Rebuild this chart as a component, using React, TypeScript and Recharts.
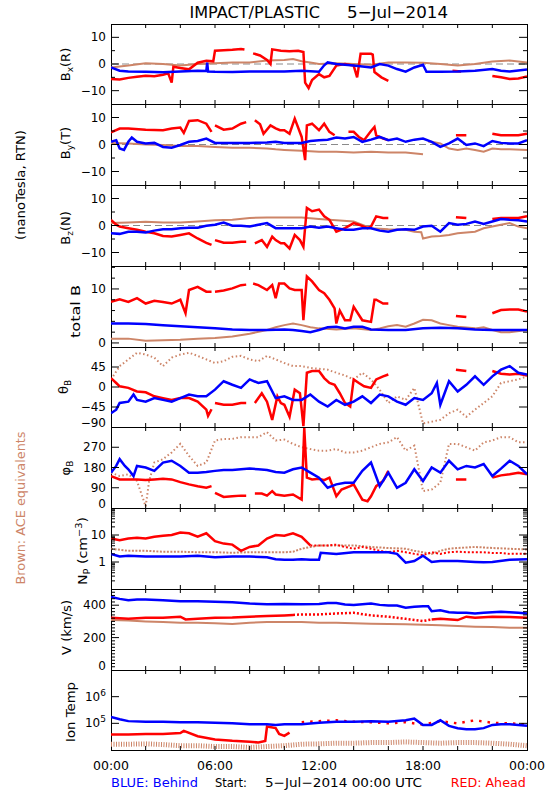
import React from 'react';
import { LineChart, Line, XAxis, YAxis, ReferenceArea, ReferenceLine } from 'recharts';

type Pt = [number, number | null];

const BLUE = '#0000ff';
const RED = '#ff0000';
const BROWN = '#cd8568';
const FONT = '"DejaVu Sans", sans-serif';

// x axis: hours of 5-Jul-2014
const HOUR_TICKS = [0, 2, 4, 6, 8, 10, 12, 14, 16, 18, 20, 22, 24];
const HOUR_LABELS: Record<number, string> = { 0: '00:00', 6: '06:00', 12: '12:00', 18: '18:00', 24: '00:00' };

// ---- Bx (R)
const bxAhead: Pt[] = [[0,-5.6],[0.5,-5.8],[1,-5.2],[1.5,-4.8],[2,-4.4],[2.5,-4.6],[3,-4],[3.3,-3.5],[3.5,-7],[3.6,-1],[4,-1.5],[4.5,-2],[5,0.5],[5.5,1.2],[5.9,1],[6,5],[6.5,5.2],[7,5.3],[7.5,5.6],[7.7,5.4],[7.8,null],[8.2,4],[8.6,3.2],[9,1.5],[9.2,0],[9.3,5.5],[9.8,5],[10.3,4.8],[10.8,5],[11.1,4.5],[11.2,-7],[11.4,-9],[11.6,-6],[12,-3.8],[12.3,-5],[12.6,-4.5],[13,-0.6],[13.5,0],[14,-0.6],[14.2,-5],[14.4,3.8],[15,3.8],[15.1,3.5],[15.2,-3],[15.6,-5],[16,-6.3],[16.1,null],[19.7,-2.5],[20.2,-2.8],[20.3,null],[22,-4.5],[22.5,-5],[23,-5.6],[23.5,-5.4],[24,-4.7]];
const bxBehind: Pt[] = [[0,-1.3],[0.5,-2.5],[1,-2.8],[2,-2.9],[3,-3.1],[4,-2.8],[5,-2.5],[5.5,-2.6],[5.55,0.5],[5.6,-2.8],[6,-2.9],[7,-3],[8,-2.8],[9,-2.8],[10,-2.8],[11,-2.5],[12,-2.9],[12.3,-0.5],[12.5,0.6],[13,0],[14,-0.6],[15,-1.3],[15.5,0],[16,-0.6],[16.5,-1.9],[17,-2.9],[17.5,-1.3],[18,-0.3],[18.2,-2.9],[19,-2.9],[20,-2.8],[21,-2.5],[22,-1.9],[22.5,-2.5],[23,-2.8],[24,-2.1]];
const bxAce: Pt[] = [[0,-1.3],[1,-0.6],[2,0.3],[3,0],[4,-0.6],[5,0],[6,0.3],[7,0.6],[8,0.6],[9,1.3],[10,1.5],[10.5,1.9],[11,1],[11.5,0.6],[12,0],[13,0.3],[14,0],[15,-0.3],[16,0.6],[17,0.6],[18,0.5],[19,0],[20,-0.6],[21,0],[22,0.9],[23,1.3],[24,0.6]];

// ---- By (T)
const byAhead: Pt[] = [[0,4.5],[0.5,5.9],[1,5.9],[2,5.5],[3,5.3],[3.5,5.9],[4,6.3],[4.2,4.3],[4.5,8.7],[5,9],[5.5,7.7],[5.8,4.7],[5.9,null],[6,7.1],[6.5,5.5],[7,5.9],[7.5,7.7],[7.8,8.3],[7.9,null],[8.3,9],[8.6,7.5],[8.8,4],[9.2,7.1],[9.5,6],[9.75,5.3],[10,5.3],[10.3,4],[10.6,9.6],[11,2.8],[11.2,-5.8],[11.3,7.1],[11.6,7.7],[12,5.3],[12.3,7.7],[12.6,4.7],[12.9,3.4],[13.1,null],[13.7,4.7],[14,4.7],[14.3,2.8],[14.6,1.6],[15,5],[15.2,6.5],[15.3,3.4],[15.7,2.2],[16,1.6],[16.1,null],[19.9,3.4],[20.5,3.4],[20.6,null],[22,4],[22.5,3.4],[23,3.4],[23.5,3.4],[24,4]];
const byBehind: Pt[] = [[0,1],[0.3,1.6],[0.5,-1.5],[0.75,-2],[1,1],[1.2,2.6],[1.5,1],[2,0.4],[2.5,0.6],[3,-0.9],[3.5,-1.2],[4,-0.2],[4.5,1],[5,1.3],[5.5,2.2],[6,0.6],[7,0.6],[8,0.6],[9,0.7],[9.5,1],[10,0.6],[11,0.6],[11.5,1.3],[12,1.6],[12.5,1.8],[13,2.6],[13.5,2.2],[14,2.8],[14.5,1],[15,1.8],[15.5,2.8],[16,1.6],[16.5,2.2],[17,1],[17.5,1.8],[18,2.2],[18.5,1],[19,-0.9],[19.5,0.4],[20,2.2],[20.5,-0.2],[21,0.4],[21.5,-0.6],[22,1.3],[22.5,0.6],[23,0.4],[23.5,0.4],[24,1.6]];
const byAce: Pt[] = [[0,0.6],[1,0.4],[2,0],[3,-0.2],[4,-0.6],[5,-0.6],[6,-0.9],[7,-1.2],[8,-1.2],[9,-1.5],[9.5,-1.8],[10,-2],[11,-2.3],[12,-2.7],[13,-2.7],[14,-3],[15,-2.7],[16,-3],[17,-3],[18,-3.6],[18.1,null],[18.3,1],[18.5,1],[19,0.4],[19.5,-1.5],[20,-2],[20.5,-1.5],[21,-2],[21.5,-2.7],[22,-1.5],[22.5,-1.8],[23,-1.8],[24,-2]];

// ---- Bz (N)
const bzAhead: Pt[] = [[0,2.1],[0.3,0.3],[0.5,-0.4],[1,-1],[1.5,-1.6],[2,-2.3],[2.5,-2.9],[3,-3.9],[3.5,-4.1],[4,-3.5],[4.5,-2.9],[5,-4.8],[5.5,-6.4],[5.8,-7.2],[5.9,null],[6,-5.4],[6.5,-6.4],[7,-6.4],[7.5,-6],[7.8,-6],[7.9,null],[8.3,-6.6],[8.7,-5.4],[9,-7.9],[9.3,-4.1],[9.5,-5.4],[9.8,-6.6],[10,-6.6],[10.3,-8.5],[10.6,-3.5],[10.9,-5.4],[11.1,-7.9],[11.3,6.5],[11.6,5.3],[12,5.9],[12.3,3.4],[12.6,2.1],[13,-2.3],[13.5,-1],[14,0.9],[14.3,0.3],[14.8,-1],[15,-0.4],[15.3,3.4],[15.7,2.8],[16,2.8],[16.1,null],[19.9,3.1],[20.5,2.8],[20.6,null],[22,2.4],[22.5,2.8],[23,2.8],[23.5,2.8],[24,3.4]];
const bzBehind: Pt[] = [[0,-2.9],[0.5,-3.1],[1,-2.3],[1.5,-2.3],[2,-2.6],[2.5,-1.9],[3,-1.4],[3.5,-1.4],[4,-1],[4.5,-0.8],[5,-0.8],[5.5,-0.1],[6,0.3],[6.5,1.1],[7,-0.1],[7.5,-0.1],[8,-0.4],[8.5,0.3],[9,0.9],[9.5,-1],[10,-1],[10.5,-1],[11,-1],[11.5,-0.4],[12,-0.8],[12.5,-0.4],[13,-1],[13.5,-1.6],[14,-1.6],[14.5,-1],[15,-1],[15.5,-1.9],[16,-2.3],[16.5,-1.6],[17,-1.4],[17.5,-1.6],[18,-0.4],[18.5,-0.1],[19,-2.3],[19.5,0.9],[20,0.3],[20.5,0.6],[21,1.5],[21.5,0.6],[22,1.5],[22.5,2.4],[23,2.1],[23.5,1.9],[24,1.5]];
const bzAce: Pt[] = [[0,0.9],[1,1.1],[2,1.4],[3,1.1],[4,1.1],[5,1.5],[6,1.9],[7,2.1],[8,2.8],[9,3],[10,3],[11,3],[12,2.4],[13,1.9],[14,1.5],[15,-1],[16,-1.4],[17,-1.6],[17.5,-2.3],[17.9,-2.5],[18,-4.8],[18.5,-4.1],[19,-3.9],[19.5,-3.5],[20,-2.9],[20.5,-2.6],[21,-2.3],[21.5,-1],[22,-0.4],[22.5,0.3],[23,0.9],[23.5,-0.4],[24,-1]];

// ---- total B
const btAhead: Pt[] = [[0,7.6],[0.5,8.1],[1,7.6],[1.5,8.3],[2,7.3],[2.5,7.8],[3,7.6],[3.5,7.3],[4,8],[4.3,5.5],[4.5,9.8],[5,10.4],[5.5,9.5],[5.8,9.5],[5.9,null],[6,9.5],[6.5,9.7],[7,10.1],[7.5,10.7],[7.8,10.8],[7.9,null],[8.2,11],[8.5,10.7],[9,9.8],[9.3,10.7],[9.5,8.3],[9.7,11],[10,11],[10.3,10.1],[10.6,9.8],[11,9.8],[11.1,4.2],[11.3,12.3],[11.6,11.4],[12,9.8],[12.3,9.2],[12.6,8],[12.9,6.4],[13,3.6],[13.2,6],[13.5,4.2],[13.8,4.2],[14,6.7],[14.5,4.2],[15,3.9],[15.2,8],[15.3,8],[15.7,7.3],[16,7.3],[16.1,null],[19.9,5],[20.5,4.8],[20.6,null],[22,5.5],[22.5,6.1],[23,6.2],[23.5,6.2],[24,5.8]];
const btBehind: Pt[] = [[0,3.6],[1,3.6],[2,3.5],[3,3.3],[4,3.1],[5,2.9],[6,2.7],[7,2.5],[8,2.4],[9,2.4],[10,2.5],[10.5,2.4],[11,2.2],[11.5,2],[12,2.4],[12.5,2.9],[13,3],[13.5,2.7],[14,3],[14.5,3],[15,2.5],[16,2.4],[17,2.4],[18,2.7],[19,2.8],[20,2.7],[21,2.5],[22,2.4],[23,2.4],[24,2.4]];
const btAce: Pt[] = [[0,0.8],[1,0.8],[2,0.4],[3,0.5],[4,0.6],[5,0.8],[6,0.9],[7,1.2],[8,1.7],[9,2.4],[9.5,2.9],[10,3.3],[10.5,3.6],[11,3.3],[11.5,2.9],[12,2.7],[13,2.5],[14,2.7],[15,2.4],[15.5,2.7],[16,3.1],[16.5,3.3],[17,3],[17.5,3.6],[18,4.3],[18.5,4.2],[19,3.6],[19.5,3.3],[20,3],[21,2.7],[21.5,2.9],[22,2.4],[22.5,2],[23,2],[24,2.4]];

// ---- theta B
const thAhead: Pt[] = [[0,20],[0.3,9],[0.5,1.5],[1,-2],[1.5,-10],[2,-12],[2.5,-21],[3,-25],[3.5,-29],[4,-25],[4.5,-25],[5,-33],[5.5,-51],[5.6,-65],[5.8,-50],[5.9,null],[6,-36],[6.5,-40],[7,-40],[7.5,-36],[7.8,-36],[7.9,null],[8.3,-36],[8.7,-14],[9,-33],[9.3,-74],[9.6,-21],[9.8,-36],[10,-40],[10.3,-67],[10.6,-6],[10.9,-14],[11.1,-88],[11.3,32],[11.6,36],[12,36],[12.3,20],[12.6,9],[12.9,5],[13.2,-14],[13.5,-36],[13.8,-44],[14,17],[14.3,9],[14.6,1.5],[15,-2],[15.3,17],[15.7,24],[16,28],[16.1,null],[19.9,39],[20.5,36],[20.6,null],[22,36],[22.5,30],[23,28],[23.5,30],[24,26]];
const thBehind: Pt[] = [[0,-59],[0.3,-51],[0.5,-36],[1,-33],[1.3,-17],[1.5,-29],[2,-33],[2.5,-25],[3,-29],[3.5,-33],[4,-25],[4.5,-17],[5,-21],[5.5,-21],[6,-6],[6.5,13],[7,5],[7.5,-2],[8,17],[8.5,9],[9,13],[9.5,-25],[10,-21],[10.5,-29],[11,-29],[11.5,-17],[12,-33],[12.5,-44],[13,-29],[13.5,-40],[14,-33],[14.5,-21],[15,-36],[15.5,-17],[16,-21],[16.5,-33],[17,-40],[17.5,-25],[18,-29],[18.5,-14],[18.8,9],[19,-40],[19.5,13],[20,-10],[20.5,5],[21,24],[21.5,5],[22,24],[22.5,39],[23,47],[23.5,32],[24,28]];
const thAce: Pt[] = [[0,17],[0.5,47],[1,62],[1.5,77],[2,73],[2.5,66],[3,47],[3.5,66],[4,73],[4.5,77],[5,70],[5.5,62],[6,54],[6.5,58],[7,68],[7.5,70],[8,62],[8.5,58],[9,70],[9.5,62],[10,54],[10.5,47],[11,47],[11.5,43],[12,41],[12.5,39],[13,32],[13.5,26],[14,17],[14.5,32],[15,17],[15.5,-6],[16,-36],[16.5,-21],[17,-29],[17.5,-2],[18,-82],[18.5,-78],[19,-74],[19.5,-59],[20,-51],[20.5,-67],[21,-51],[21.5,-36],[22,-21],[22.5,9],[23,13],[23.5,17],[24,24]];

// ---- phi B
const phAhead: Pt[] = [[0,142],[0.5,127],[1,127],[1.5,127],[2,124],[2.5,127],[3,130],[3.5,127],[4,115],[4.5,105],[5,97],[5.5,90],[5.8,97],[5.9,null],[6,67],[6.5,49],[7,52],[7.5,55],[7.8,55],[7.9,null],[8.3,64],[8.7,64],[9,55],[9.3,75],[9.5,60],[10,55],[10.5,60],[11,37],[11.15,355],[11.3,135],[11.6,127],[12,130],[12.3,124],[12.6,135],[13,52],[13.3,82],[13.8,97],[14,105],[14.5,37],[14.8,30],[15,52],[15.3,97],[15.7,120],[16,165],[16.1,null],[19.9,127],[20.5,127],[20.6,null],[22,135],[22.5,145],[23,150],[23.5,157],[24,150]];
const phBehind: Pt[] = [[0,157],[0.3,187],[0.5,217],[0.8,187],[1,172],[1.3,142],[1.5,187],[2,180],[2.5,165],[3,202],[3.5,210],[4,187],[4.5,157],[5,157],[5.5,160],[6,165],[6.5,169],[7,169],[7.5,172],[8,175],[8.5,172],[9,169],[9.5,160],[10,157],[10.5,172],[11,180],[11.5,157],[12,135],[12.5,90],[13,105],[13.5,112],[14,112],[14.5,165],[15,202],[15.5,97],[16,157],[16.5,90],[17,112],[17.5,172],[18,120],[18.5,180],[19,157],[19.5,210],[20,172],[20.5,187],[21,180],[21.5,195],[22,142],[22.5,175],[23,210],[23.5,187],[24,150]];
const phAce: Pt[] = [[0,157],[0.5,142],[1,150],[1.5,120],[2,7],[2.2,120],[2.5,202],[3,217],[3.5,247],[4,285],[4.5,232],[5,187],[5.5,202],[6,300],[6.5,307],[7,307],[7.5,315],[8,315],[8.5,315],[9,337],[9.5,300],[10,304],[10.5,285],[11,270],[11.5,262],[12,255],[12.5,255],[13,262],[13.5,247],[14,247],[14.5,255],[15,270],[15.5,285],[16,292],[16.5,315],[17,255],[17.5,277],[18,75],[18.5,82],[19,112],[19.5,285],[20,285],[20.5,270],[21,255],[21.5,292],[22,300],[22.5,315],[23,315],[23.5,292],[24,292]];

// ---- Np (cm^-3)
const npAhead: Pt[] = [[0,7.4],[0.5,6.4],[1,7.4],[1.5,7.9],[2,7.4],[2.5,8.6],[3,9.4],[3.5,10],[4,12.3],[4.5,11.6],[5,8.6],[5.5,11.6],[6,5.9],[6.5,4.8],[7,4.4],[7.5,2.6],[8,3.6],[8.5,4.1],[9,7.4],[9.5,10],[10,9.4],[10.5,11.6],[11,8.6],[11.5,4.1]];
const npAheadScatter: Pt[] = [[11.5,4.1],[12,4.1],[12.5,4.1],[13,4.4],[13.5,3.6],[14,3.1],[14.5,3.6],[15,3.1],[15.5,2.6],[16,2.3],[16.5,2.6],[17,2.3],[17.5,2],[18,1.8],[18.5,2.3],[19,2],[19.5,2.3],[20,2.4],[20.5,2.3],[21,2.3],[21.5,2.3],[22,2.15],[22.5,2.15],[23,2],[23.5,2],[24,2]];
const npBehind: Pt[] = [[0,2],[0.5,1.6],[1,1.7],[2,1.6],[3,1.6],[4,1.6],[5,1.7],[6,1.5],[7,1.6],[8,1.6],[9,1.5],[9.5,1.27],[10,1.2],[10.5,1.2],[11,1.27],[11.5,1.2],[12,1.2],[12.1,2.2],[13,2],[14,2.3],[15,2.3],[16,2.3],[16.5,2],[17,0.94],[17.5,1.09],[18,1.7],[18.5,1],[19,1.09],[20,1.09],[21,1],[21.5,0.97],[22,1],[23,1.2],[24,1.27]];
const npAce: Pt[] = [[0,3.1],[1,2.6],[2,2.6],[3,2.4],[4,2.4],[5,2.3],[6,2.3],[7,2.2],[8,2.3],[9,2.3],[10,2.3],[10.5,2.4],[11,3.1],[11.5,3.6],[12,4.1],[13,4.1],[14,4.1],[15,3.6],[16,3.3],[17,3.1],[17.5,2.6],[18,2.3],[18.5,2],[19,2.6],[19.5,3.1],[20,3.3],[21,3.6],[22,3.3],[23,3.1],[24,2.9]];

// ---- V (km/s)
const vBehind: Pt[] = [[0,451],[0.5,439],[1,431],[1.5,435],[2,435],[3,431],[4,424],[5,424],[6,422],[7,418],[8,410],[9,406],[10,408],[11,406],[12,408],[12.5,414],[13,414],[13.5,404],[14,402],[15,410],[15.5,402],[16,398],[16.5,398],[17,384],[17.5,390],[18,394],[18.3,394],[18.5,363],[19,369],[19.5,357],[20,353],[20.5,353],[21,349],[21.5,353],[22,357],[22.5,360],[23,357],[23.5,353],[24,349]];
const vAhead: Pt[] = [[0,322],[1,316],[2,322],[3,322],[4,329],[4.3,312],[5,316],[6,322],[7,324],[8,329],[9,333],[10,337],[10.5,340]];
const vAheadScatter: Pt[] = [[10.5,340],[11,343],[12,343],[13,349],[14,353],[15,337],[16,329],[17,316],[18,302],[18.5,312]];
const vAheadLate: Pt[] = [[18.5,312],[19,316],[20,308],[20.5,329],[21,322],[22,329],[23,327],[24,322]];
const vAce: Pt[] = [[0,308],[1,306],[2,300],[3,296],[4,292],[5,292],[6,288],[7,284],[8,292],[9,296],[10,296],[11,296],[12,292],[13,292],[14,288],[15,286],[16,284],[17,282],[18,280],[19,276],[20,271],[21,267],[22,265],[23,261],[24,261]];

// ---- Ion Temp (K)
const tBehind: Pt[] = [[0,174000],[0.5,143000],[1,121000],[2,115000],[3,115000],[4,109000],[5,109000],[6,106000],[7,100000],[8,92000],[9,92000],[9.5,87000],[10,92000],[11,92000],[12,105000],[13,115000],[14,115000],[15,121000],[16,115000],[17,130000],[17.5,150000],[18,87000],[18.5,87000],[19,130000],[19.5,80000],[20,66000],[20.5,60000],[21,60000],[21.5,66000],[22,87000],[22.5,92000],[23,92000],[23.5,87000],[24,82000]];
const tAhead: Pt[] = [[0,38000],[1,38000],[2,40000],[3,40000],[4,43000],[4.2,52000],[5,33000],[6,25000],[7,22000],[8,20500],[8.5,19000],[8.9,22000],[9,76000],[9.5,66000],[9.7,40000],[10,34000],[10.3,45000]];
const tAheadScatter: Pt[] = [[11,110000],[12,120000],[13,130000],[14,115000],[15,110000],[16,100000],[17,110000],[18,90000],[19,120000],[20,100000],[21,130000],[22,105000],[23,100000],[24,90000]];
const tAce: Pt[] = [[0,16500],[1,16500],[2,17000],[3,16000],[4,14500],[5,14500],[6,13500],[7,13500],[8,12500],[9,13500],[10,14500],[11,16500],[12,17000],[13,18000],[14,18000],[15,19000],[16,19000],[17,20000],[18,19000],[19,18000],[20,19000],[21,19000],[22,18000],[23,16500],[24,14500]];

// ---- layout
const PANEL_EDGES = [24, 104, 185, 266, 347, 427, 508, 589, 670, 750];
const PLOT_LEFT = 111;
const PLOT_W = 416;
const MT = 10;

interface Series { data: Pt[]; color: string; width: number; dash?: string }
interface PanelDef {
  domain: [number, number];
  log?: boolean;
  ticks: number[];
  major: number[];
  labels: Record<string, React.ReactNode>;
  zero?: boolean;
  series: Series[];
}

const sup = (base: string, exp: string) => (
  <>
    {base}
    <tspan dy={-5} fontSize={9}>{exp}</tspan>
  </>
);

const bTicks = [-10, -5, 0, 5, 10];
const bLabels = { '10': '10', '0': '0', '-10': '\u221210' };

const panels: PanelDef[] = [
  { domain: [-15, 15], ticks: bTicks, major: [-10, 0, 10], labels: bLabels, zero: true,
    series: [{ data: bxAce, color: BROWN, width: 2 }, { data: bxAhead, color: RED, width: 2.5 }, { data: bxBehind, color: BLUE, width: 2.5 }] },
  { domain: [-15, 15], ticks: bTicks, major: [-10, 0, 10], labels: bLabels, zero: true,
    series: [{ data: byAce, color: BROWN, width: 2 }, { data: byAhead, color: RED, width: 2.5 }, { data: byBehind, color: BLUE, width: 2.5 }] },
  { domain: [-15, 15], ticks: bTicks, major: [-10, 0, 10], labels: bLabels, zero: true,
    series: [{ data: bzAce, color: BROWN, width: 2 }, { data: bzAhead, color: RED, width: 2.5 }, { data: bzBehind, color: BLUE, width: 2.5 }] },
  { domain: [-0.75, 14.25], ticks: [0, 2, 4, 6, 8, 10, 12, 14], major: [0, 10], labels: { '0': '0', '10': '10' },
    series: [{ data: btAce, color: BROWN, width: 2 }, { data: btAhead, color: RED, width: 2.5 }, { data: btBehind, color: BLUE, width: 2.5 }] },
  { domain: [-90, 90], ticks: [-90, -45, 0, 45], major: [-45, 0, 45], labels: { '45': '45', '0': '0', '-45': '\u221245', '-90': '\u221290' },
    series: [{ data: thAce, color: BROWN, width: 2, dash: '1.5 2.5' }, { data: thAhead, color: RED, width: 2.5 }, { data: thBehind, color: BLUE, width: 2.5 }] },
  { domain: [0, 360], ticks: [0, 90, 180, 270], major: [90, 180, 270], labels: { '270': '270', '180': '180', '90': '90', '0': '0' },
    series: [{ data: phAce, color: BROWN, width: 2, dash: '1.5 2.5' }, { data: phAhead, color: RED, width: 2.5 }, { data: phBehind, color: BLUE, width: 2.5 }] },
  { domain: [0.1, 100], log: true,
    ticks: [0.2, 0.3, 0.4, 0.5, 0.6, 0.7, 0.8, 0.9, 1, 2, 3, 4, 5, 6, 7, 8, 9, 10, 20, 30, 40, 50, 60, 70, 80, 90],
    major: [1, 10], labels: { '1': '1', '10': '10' },
    series: [{ data: npAce, color: BROWN, width: 2, dash: '2 1.5' }, { data: npAheadScatter, color: RED, width: 2, dash: '2 2' }, { data: npAhead, color: RED, width: 2.5 }, { data: npBehind, color: BLUE, width: 2.5 }] },
  { domain: [0, 500],
    ticks: [0, 20, 40, 60, 80, 100, 120, 140, 160, 180, 200, 220, 240, 260, 280, 300, 320, 340, 360, 380, 400, 420, 440, 460, 480],
    major: [200, 400], labels: { '400': '400', '200': '200', '0': '0' },
    series: [{ data: vAce, color: BROWN, width: 2 }, { data: vAhead, color: RED, width: 2.5 }, { data: vAheadScatter, color: RED, width: 2.5, dash: '2 2' }, { data: vAheadLate, color: RED, width: 2.5 }, { data: vBehind, color: BLUE, width: 2.5 }] },
  { domain: [10000, 10000000], log: true, ticks: [100000, 1000000], major: [100000, 1000000],
    labels: { '100000': sup('10', '5'), '1000000': sup('10', '6') },
    series: [{ data: tAce, color: BROWN, width: 5, dash: '1 1.5' }, { data: tAheadScatter, color: RED, width: 2.5, dash: '2.5 6' }, { data: tAhead, color: RED, width: 2.5 }, { data: tBehind, color: BLUE, width: 2.5 }] },
];

const toRows = (pts: Pt[]) => pts.map(([t, v]) => ({ t, v }));

function makeYTick(p: PanelDef) {
  return (props: any) => {
    const { x, y, payload } = props;
    const v = payload.value as number;
    const len = p.major.includes(v) ? 8 : 4;
    const edge = v === p.domain[0] || v === p.domain[1];
    const lab = p.labels[String(v)];
    return (
      <g>
        {!edge && <line x1={x} x2={x + len} y1={y} y2={y} stroke="#000" />}
        {!edge && <line x1={x + PLOT_W - len} x2={x + PLOT_W} y1={y} y2={y} stroke="#000" />}
        {lab && (
          <text x={x - 5} y={y + 4 + (v === p.domain[0] ? -4 : 0)} textAnchor="end" fontSize={12} fontFamily={FONT} fill="#000">
            {lab}
          </text>
        )}
      </g>
    );
  };
}

function makeXTick(ph: number, showLabels: boolean) {
  return (props: any) => {
    const { x, y, payload } = props;
    const v = payload.value as number;
    const inner = v > 0 && v < 24;
    return (
      <g>
        {inner && <line x1={x} x2={x} y1={y} y2={y - 4} stroke="#000" />}
        {inner && <line x1={x} x2={x} y1={y - ph} y2={y - ph + 4} stroke="#000" />}
        {showLabels && HOUR_LABELS[v] && (
          <text x={x} y={y + 20} textAnchor="middle" fontSize={12.5} fontFamily={FONT} fill="#000">
            {HOUR_LABELS[v]}
          </text>
        )}
      </g>
    );
  };
}

function Panel({ p, idx }: { p: PanelDef; idx: number }) {
  const top = PANEL_EDGES[idx];
  const ph = PANEL_EDGES[idx + 1] - top;
  const last = idx === panels.length - 1;
  const mb = last ? 30 : 10;
  return (
    <div style={{ position: 'absolute', left: 0, top: top - MT }}>
      <LineChart width={550} height={ph + MT + mb} margin={{ top: MT, right: 550 - PLOT_LEFT - PLOT_W, bottom: mb - 1, left: 0 }}>
        <XAxis type="number" dataKey="t" domain={[0, 24]} ticks={HOUR_TICKS} interval={0} height={1}
          tickSize={0} tickMargin={0} axisLine={false} tickLine={false} tick={makeXTick(ph, last)} allowDataOverflow />
        <YAxis type="number" scale={p.log ? 'log' : 'linear'} domain={p.domain} ticks={p.ticks} interval={0}
          width={PLOT_LEFT} tickSize={0} tickMargin={0} axisLine={false} tickLine={false} tick={makeYTick(p)} allowDataOverflow />
        {p.zero && <ReferenceLine y={0} stroke="#8a8a8a" strokeDasharray="7 4" />}
        {p.series.map((s, i) => (
          <Line key={i} data={toRows(s.data)} dataKey="v" stroke={s.color} strokeWidth={s.width}
            strokeDasharray={s.dash} dot={false} connectNulls={false} isAnimationActive={false} type="linear" />
        ))}
        <ReferenceArea x1={0} x2={24} y1={p.domain[0]} y2={p.domain[1]} fill="none" stroke="#000" strokeWidth={1}
          shapeRendering="crispEdges" ifOverflow="visible" />
      </LineChart>
    </div>
  );
}

function VLabel({ x, y, children, len, color = '#000', size = 13 }: { x: number; y: number; children: React.ReactNode; len?: number; color?: string; size?: number }) {
  return (
    <text transform={`translate(${x},${y}) rotate(-90)`} textAnchor="middle" fontSize={size} fontFamily={FONT} fill={color}
      textLength={len} lengthAdjust={len ? 'spacingAndGlyphs' : undefined}>
      {children}
    </text>
  );
}

const sub = (s: string) => <tspan dy={3} fontSize={9}>{s}</tspan>;

export default function App() {
  return (
    <div style={{ position: 'absolute', left: 0, top: 0, width: 550, height: 800, background: '#fff' }}>
      {panels.map((p, i) => (
        <Panel key={i} p={p} idx={i} />
      ))}
      <svg width={550} height={800} style={{ position: 'absolute', left: 0, top: 0, pointerEvents: 'none' }}>
        <g fontFamily={FONT} fill="#000">
          <text x={189.5} y={18} fontSize={16} textLength={130.5} lengthAdjust="spacingAndGlyphs">IMPACT/PLASTIC</text>
          <text x={347} y={18} fontSize={16} textLength={101} lengthAdjust="spacingAndGlyphs">5{'\u2212'}Jul{'\u2212'}2014</text>

          <VLabel x={25} y={185} len={110} size={12}>(nanoTesla,  RTN)</VLabel>
          <VLabel x={25} y={508} len={153} size={12} color={BROWN}>Brown:  ACE  equivalents</VLabel>

          <VLabel x={70} y={64.5}>B{sub('x')}<tspan dy={-3}>(R)</tspan></VLabel>
          <VLabel x={70} y={143}>B{sub('y')}<tspan dy={-3}>(T)</tspan></VLabel>
          <VLabel x={70} y={228}>B{sub('z')}<tspan dy={-3}>(N)</tspan></VLabel>
          <VLabel x={80} y={311.5} len={53}>total B</VLabel>
          <VLabel x={68} y={387}>{'\u03b8'}{sub('B')}</VLabel>
          <VLabel x={70} y={468}>{'\u03c6'}{sub('B')}</VLabel>
          <VLabel x={87} y={551} len={68}>N{sub('P')}<tspan dy={-3}> (cm</tspan><tspan dy={-5} fontSize={9}>{'\u2212'}3</tspan><tspan dy={5}>)</tspan></VLabel>
          <VLabel x={71} y={627.5} len={55}>V (km/s)</VLabel>
          <VLabel x={75} y={712} len={60}>Ion Temp</VLabel>

          <text x={111} y={787} fontSize={12.5} fill={BLUE} textLength={87} lengthAdjust="spacingAndGlyphs">BLUE:  Behind</text>
          <text x={215} y={787} fontSize={12.5} textLength={32} lengthAdjust="spacingAndGlyphs">Start:</text>
          <text x={265} y={787} fontSize={12.5} textLength={157} lengthAdjust="spacingAndGlyphs">5{'\u2212'}Jul{'\u2212'}2014 00:00 UTC</text>
          <text x={450.7} y={787} fontSize={12.5} fill={RED} textLength={75} lengthAdjust="spacingAndGlyphs">RED:  Ahead</text>
        </g>
      </svg>
    </div>
  );
}
